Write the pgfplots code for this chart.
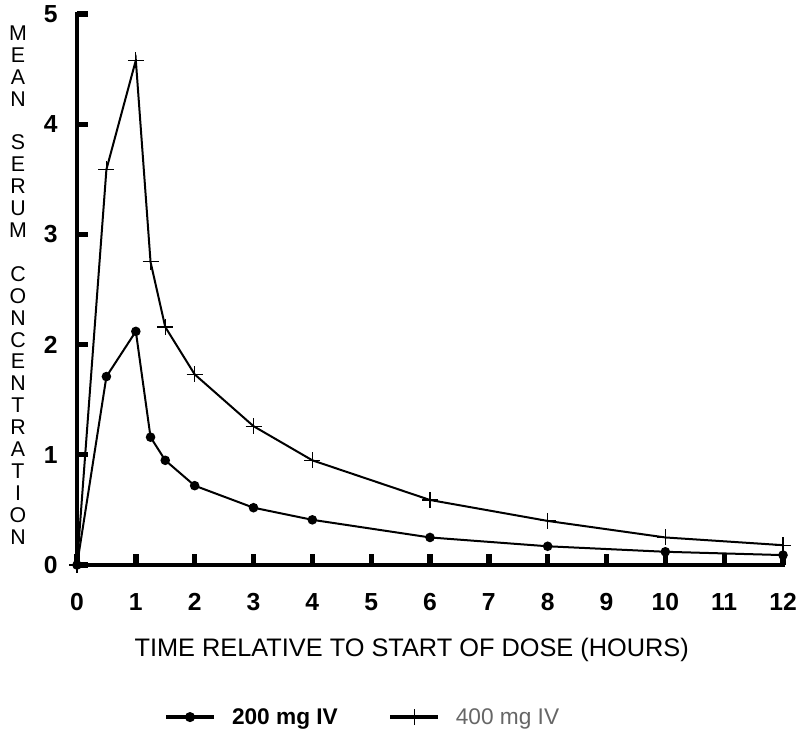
\documentclass[border=0pt]{standalone}
\usepackage{fontspec}
\setmainfont{Liberation Sans}
\usepackage{pgfplots}
\pgfplotsset{compat=1.18}
\begin{document}
\begin{tikzpicture}
\begin{axis}[
 at={(0,0)}, anchor=origin,
 scale only axis, width=529.5pt, height=413.25pt,
 xmin=0, xmax=12, ymin=0, ymax=5,
 clip=false,
 axis x line=bottom, axis y line=left,
 axis line style={-, line width=3pt, line cap=rect},
 xtick={0,...,12}, ytick={0,...,5},
 tick align=inside, major tick length=8pt,
 tick style={line width=4pt, black},
 /pgf/number format/assume math mode=true,
 ticklabel style={font=\fontsize{18.5}{18.5}\selectfont\bfseries},
 yticklabel style={xshift=-11pt},
 xticklabel style={yshift=-18pt},
 xlabel={TIME RELATIVE TO START OF DOSE (HOURS)},
 xlabel style={at={(axis description cs:0.474,0)}, anchor=center, yshift=-64pt, font=\fontsize{19}{19}\selectfont},
 legend style={at={(axis description cs:0.405,-0.276)}, anchor=center, draw=none, fill=none,
   legend columns=2, /tikz/every even column/.append style={column sep=36pt},
   /tikz/every odd column/.append style={column sep=10pt},
   font=\fontsize{17}{17}\selectfont},
 legend cell align=left,
]
\addplot[black, line width=1.5pt, mark=*, mark size=2.8pt,
  legend image code/.code={\draw[line width=3pt] (0pt,0pt) -- (36pt,0pt); \fill (18pt,0pt) circle (3pt);}]
 coordinates {(0,0) (0.5,1.71) (1,2.12) (1.25,1.16) (1.5,0.95) (2,0.72) (3,0.52) (4,0.41) (6,0.25) (8,0.17) (10,0.12) (12,0.09)};
\addlegendentry{\textbf{200 mg IV}}
\addplot[black, line width=1.5pt, mark=+, mark size=6pt, mark options={line width=0.8pt},
  legend image code/.code={\draw[line width=2.5pt] (0pt,0pt) -- (36pt,0pt); \draw[line width=0.7pt] (12pt,0pt) -- (24pt,0pt) (18pt,-6pt) -- (18pt,6pt);}]
 coordinates {(0,0) (0.5,3.59) (1,4.58) (1.25,2.75) (1.5,2.16) (2,1.73) (3,1.26) (4,0.95) (6,0.59) (8,0.40) (10,0.25) (12,0.18)};
\addlegendentry{\textcolor{black!60}{400 mg IV}}
\end{axis}
\foreach \l [count=\i from 0] in {M,E,A,N,{},S,E,R,U,M,{},C,O,N,C,E,N,T,R,A,T,I,O,N}{
  \node[inner sep=0pt, anchor=center, font=\fontsize{16}{16}\selectfont] at (-44.25pt, {399pt-\i*16.43pt}) {\l};
}
\pgfresetboundingbox
\useasboundingbox (-57.75pt,-125.25pt) rectangle (540.75pt,423.75pt);
\end{tikzpicture}
\end{document}
